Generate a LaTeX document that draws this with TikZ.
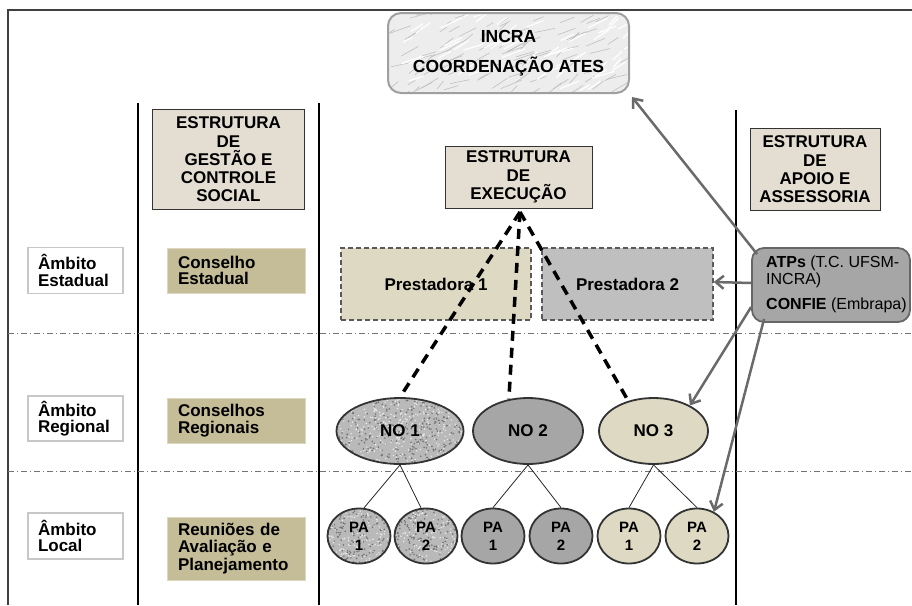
\documentclass[tikz,border=0pt]{standalone}
\usepackage{fontspec}
\setmainfont{Liberation Sans}
\usetikzlibrary{arrows.meta,shapes.geometric}
\definecolor{beige}{HTML}{E4DED2}
\definecolor{tan}{HTML}{C4BD97}
\definecolor{cream}{HTML}{DDD9C3}
\definecolor{lgray}{HTML}{BFBFBF}
\definecolor{mgray}{HTML}{A6A6A6}
\definecolor{agray}{HTML}{6A6A6A}
\begin{document}
\begin{tikzpicture}[x=1pt,y=-1pt,
  every node/.style={inner sep=0pt, font=\bfseries\fontsize{17}{18.3}\selectfont},
  estr/.style={draw=black!80, line width=1pt, fill=beige, align=center},
  amb/.style={draw=black!22, line width=1.5pt, fill=white, align=left, text width=75pt, minimum width=95pt},
  cons/.style={fill=tan, draw=tan!60!white, line width=1pt, align=left, text width=116pt, minimum width=138pt},
  prest/.style={draw=black!65, line width=1.5pt, dash pattern=on 5pt off 3pt, minimum height=72pt},
  oval/.style={ellipse, draw=black!80, line width=1.8pt, minimum height=66pt},
  pa/.style={oval, minimum width=63pt, minimum height=55pt, font=\bfseries\fontsize{15}{18}\selectfont, align=center},
  granite/.style={fill=gray!55, path picture={
      \pgfmathsetseed{#1}
      \foreach \k in {1,...,420}{
        \fill[black!55] (path picture bounding box.center) ++({rand*68},{rand*36}) circle (0.9pt);
        \fill[white!85!gray] (path picture bounding box.center) ++({rand*68},{rand*36}) circle (0.8pt);
      }}},
  marble/.style={fill=gray!14, path picture={
      \pgfmathsetseed{7}
      \foreach \k in {1,...,110}{
        \draw[gray!50, line width=0.6pt] (path picture bounding box.center) ++({rand*125},{rand*45}) -- ++({14+rand*8},{-7+rand*3});
      }
      \foreach \k in {1,...,60}{
        \draw[white, line width=1.2pt] (path picture bounding box.center) ++({rand*125},{rand*45}) -- ++({16+rand*8},{-8+rand*3});
      }}},
  dashconn/.style={line width=3.5pt, dash pattern=on 10pt off 7pt},
  thin/.style={line width=0.8pt, black!85},
  garrow/.style={agray, line width=2.5pt, -{Straight Barb[length=8pt,width=13pt]}},
  sepline/.style={black!55, line width=0.9pt, dash pattern=on 6pt off 3pt on 1pt off 3pt},
  colline/.style={black, line width=1.3pt}
]
\useasboundingbox (0,0) rectangle (912,605);
% frame and separators
\draw[black!75, line width=1.5pt] (912,10) -- (8,10) -- (8,605);
\draw[colline] (138,103) -- (138,605);
\draw[colline] (319,103) -- (319,605);
\draw[colline] (736,110) -- (736,605);
\draw[sepline] (8,333) -- (912,333);
\draw[sepline] (8,471) -- (912,471);

% top
\node[marble, draw=gray!75, line width=2pt, rounded corners=13pt, minimum width=241pt, minimum height=80pt, align=center, font=\bfseries\fontsize{17.5}{30}\selectfont] (incra) at (508.5,53) {INCRA\\COORDENAÇÃO ATES};

% headers
\node[estr, minimum width=152pt, minimum height=100pt] (gest) at (228.5,159.5) {ESTRUTURA\\DE\\GESTÃO E\\CONTROLE\\SOCIAL};
\node[estr, minimum width=147pt, minimum height=62pt] (exec) at (518.5,177) {ESTRUTURA\\DE\\EXECUÇÃO};
\node[estr, minimum width=130pt, minimum height=82pt] (apoio) at (815,169.5) {ESTRUTURA\\DE\\APOIO E\\ASSESSORIA};

% left column
\node[amb, minimum height=46pt, font=\bfseries\fontsize{17}{16.5}\selectfont] (amb1) at (75.5,270.5) {Âmbito\\Estadual};
\node[amb, minimum height=45pt, font=\bfseries\fontsize{17}{16.5}\selectfont] (amb2) at (75.5,418.5) {Âmbito\\Regional};
\node[amb, minimum height=46pt, font=\bfseries\fontsize{17}{16.5}\selectfont] (amb3) at (75.5,536) {Âmbito\\Local};

\node[cons, minimum height=45pt, font=\bfseries\fontsize{17}{16.5}\selectfont] (cons1) at (236,270.5) {Conselho\\Estadual};
\node[cons, minimum height=45pt, font=\bfseries\fontsize{17}{16.5}\selectfont] (cons2) at (236,420.5) {Conselhos\\Regionais};
\node[cons, minimum height=63pt, font=\bfseries\fontsize{17}{17.5}\selectfont] (cons3) at (236,548.5) {Reuniões de\\Avaliação e\\Planejamento};

% execution
\node[prest, fill=cream, minimum width=190pt] (p1) at (436,284) {Prestadora 1};
\node[prest, fill=lgray, minimum width=171pt] (p2) at (627.5,284) {Prestadora 2};

\node[oval, granite=3, minimum width=127pt] (no1) at (400,431) {NO 1};
\node[oval, fill=mgray, minimum width=110pt] (no2) at (528,431) {NO 2};
\node[oval, fill=cream, minimum width=109pt] (no3) at (653.5,431) {NO 3};

\node[pa, granite=5] (pa11) at (359,536) {PA\\1};
\node[pa, granite=9] (pa12) at (426,536) {PA\\2};
\node[pa, fill=mgray] (pa21) at (493,536) {PA\\1};
\node[pa, fill=mgray] (pa22) at (561,536) {PA\\2};
\node[pa, fill=cream] (pa31) at (629,536) {PA\\1};
\node[pa, fill=cream] (pa32) at (697,536) {PA\\2};

% support
\node[draw=gray!80!black, line width=1.8pt, fill=mgray, rounded corners=12pt, minimum width=158pt, minimum height=74pt] (atp) at (831,285) {};
\node[anchor=north west, align=left, font=\fontsize{16}{17}\selectfont] (atptext) at (766,256) {\textbf{ATPs} (T.C. UFSM-\\INCRA)\\[8pt]\textbf{CONFIE} (Embrapa)};

% connectors
\coordinate (apex) at (520,212);
\draw[dashconn] (apex) -- (no1.north);
\draw[dashconn] (apex) -- (no2.121);
\draw[dashconn] (apex) -- (no3.130);

\draw[thin] (no1.south) -- (pa11.80);
\draw[thin] (no1.south) -- (pa12.100);
\draw[thin] (no2.south) -- (pa21.north);
\draw[thin] (no2.south) -- (pa22.north);
\draw[thin] (no3.south) -- (pa31.north);
\draw[thin] (no3.south) -- (pa32.north);

\draw[garrow] ([xshift=6pt,yshift=-7pt]atp.north west) -- ([xshift=2pt,yshift=-3pt]incra.south east);
\draw[garrow] ([yshift=2pt]atp.west) -- ([yshift=2pt]p2.east);
\draw[garrow] ([yshift=-22pt]atp.west) -- (no3.35);
\draw[garrow] ([xshift=13pt,yshift=4pt]atp.south west) -- (pa32.55);
\end{tikzpicture}
\end{document}
